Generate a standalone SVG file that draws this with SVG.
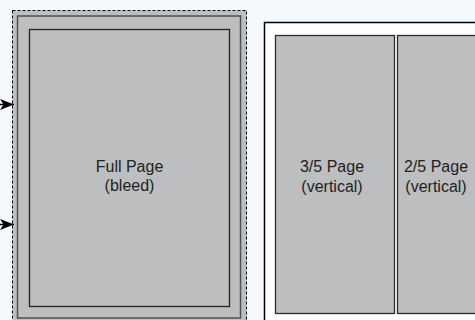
<svg xmlns="http://www.w3.org/2000/svg" width="475" height="320" viewBox="0 0 475 320">
  <style>
    .lbl { font-family: "Liberation Sans", Arial, sans-serif; font-size: 16px; fill: #231f20; text-anchor: middle; }
    .panel { fill: #bdbec0; stroke: #2b2b2b; stroke-width: 1.3; }
  </style>
  <defs>
    <marker id="ah" markerWidth="14" markerHeight="11" refX="14" refY="5.5" orient="auto" markerUnits="userSpaceOnUse">
      <path d="M0,0 L14,5.5 L0,11 L3.5,5.5 Z" fill="#000"/>
    </marker>
  </defs>
  <rect x="0" y="0" width="475" height="320" fill="#f5f8fc"/>

  <g id="full-page">
    <rect x="12.5" y="10.5" width="234" height="320" fill="#bdbec0" stroke="#000" stroke-width="1" stroke-dasharray="3,2"/>
    <rect x="17.5" y="16" width="223" height="302" fill="none" stroke="#505050" stroke-width="1.5"/>
    <rect x="29.5" y="29.5" width="200" height="277" fill="none" stroke="#222" stroke-width="1.3"/>
    <text class="lbl" x="129.5" y="172">Full Page</text>
    <text class="lbl" x="129.5" y="191">(bleed)</text>
  </g>

  <g id="page-right">
    <rect x="264.5" y="22.5" width="230" height="310" fill="#fff" stroke="#000" stroke-width="1.5"/>
  </g>

  <g id="three-fifths">
    <rect class="panel" x="275.5" y="35.5" width="119" height="278"/>
    <text class="lbl" x="332" y="172">3/5 Page</text>
    <text class="lbl" x="332" y="192">(vertical)</text>
  </g>

  <g id="two-fifths">
    <rect class="panel" x="397.5" y="35.5" width="90" height="278"/>
    <text class="lbl" x="436" y="172">2/5 Page</text>
    <text class="lbl" x="436" y="192">(vertical)</text>
  </g>

  <g id="connectors">
    <line x1="0" y1="104.5" x2="14" y2="104.5" stroke="#000" stroke-width="1.5" marker-end="url(#ah)"/>
    <line x1="0" y1="224.5" x2="14" y2="224.5" stroke="#000" stroke-width="1.5" marker-end="url(#ah)"/>
  </g>
</svg>
